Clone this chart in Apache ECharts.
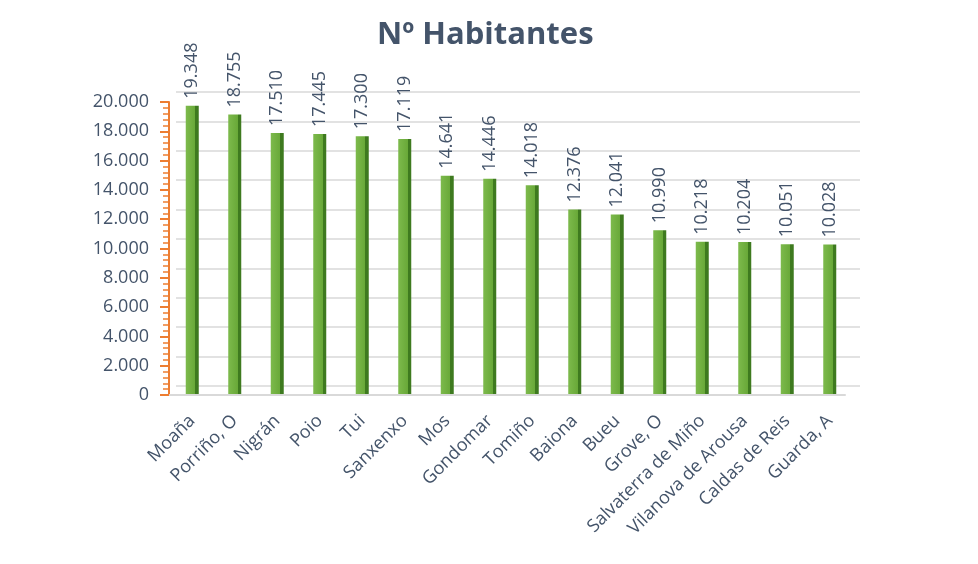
<!DOCTYPE html>
<html>
<head>
<meta charset="utf-8">
<script src="https://cdn.jsdelivr.net/npm/echarts@6/dist/echarts.min.js"></script>
<style>
  html, body { margin: 0; padding: 0; background: #fff; }
  #main { width: 978px; height: 564px; }
</style>
</head>
<body>
<div id="main"></div>
<script>
// municipios
var categories = ['Moaña', 'Porriño, O', 'Nigrán', 'Poio', 'Tui', 'Sanxenxo', 'Mos', 'Gondomar',
    'Tomiño', 'Baiona', 'Bueu', 'Grove, O', 'Salvaterra de Miño', 'Vilanova de Arousa',
    'Caldas de Reis', 'Guarda, A'];
// habitantes
var habitantes = [19348, 18755, 17510, 17445, 17300, 17119, 14641, 14446, 14018, 12376, 12041,
    10990, 10218, 10204, 10051, 10028];
var yTicks = [0, 2000, 4000, 6000, 8000, 10000, 12000, 14000, 16000, 18000, 20000];

function fmt(v) {
    // separador de miles con punto
    return String(v).replace(/\B(?=(\d{3})+(?!\d))/g, '.');
}

var textColor = '#44546a';
var myChart = echarts.init(document.getElementById('main'));

var option = {
    backgroundColor: '#fff',
    animation: false,
    textStyle: { fontFamily: 'Open Sans' },
    title: {
        text: 'Nº Habitantes',
        left: 372,
        top: 15,
        textStyle: { fontSize: 31, fontWeight: 'bold', color: textColor, fontFamily: 'Open Sans' }
    },
    grid: [
        // eje frontal
        { left: 169, right: 133, top: 102, bottom: 169 },
        // pared del fondo (efecto 3D)
        { left: 176, right: 118, top: 92, bottom: 178 },
        // barras
        { left: 171, right: 127, top: 96, bottom: 170 }
    ],
    xAxis: [
        {
            type: 'category',
            gridIndex: 0,
            data: categories,
            axisLine: { show: true, lineStyle: { color: '#d9d9d9', width: 2 } },
            axisTick: { show: false },
            axisLabel: { show: false }
        },
        {
            type: 'category',
            gridIndex: 1,
            data: categories,
            show: false
        },
        {
            type: 'category',
            gridIndex: 2,
            data: categories,
            axisLine: { show: false },
            axisTick: { show: false },
            axisLabel: { rotate: 45, fontSize: 18, color: textColor, margin: 24, interval: 0 }
        }
    ],
    yAxis: [
        {
            type: 'value',
            gridIndex: 0,
            min: yTicks[0],
            max: yTicks[yTicks.length - 1],
            interval: 2000,
            axisLine: { show: true, lineStyle: { color: '#ed7d31', width: 2 } },
            axisTick: { show: true, inside: false, length: 9, lineStyle: { color: '#ed7d31', width: 2 } },
            minorTick: { show: true, splitNumber: 5, length: 6, lineStyle: { color: '#ed7d31', width: 1.5 } },
            splitLine: { show: false },
            axisLabel: { fontSize: 18, color: textColor, margin: 20, formatter: fmt }
        },
        {
            type: 'value',
            gridIndex: 1,
            min: yTicks[0],
            max: yTicks[yTicks.length - 1],
            interval: 2000,
            axisLine: { show: false },
            axisTick: { show: false },
            axisLabel: { show: false },
            splitLine: { show: true, lineStyle: { color: '#d9d9d9', width: 1.5 } }
        },
        {
            type: 'value',
            gridIndex: 2,
            min: yTicks[0],
            max: yTicks[yTicks.length - 1],
            interval: 2000,
            show: false,
            splitLine: { show: false }
        }
    ],
    series: [
        {
            name: 'Nº Habitantes',
            type: 'bar',
            xAxisIndex: 2,
            yAxisIndex: 2,
            data: habitantes,
            barWidth: 13,
            itemStyle: {
                color: new echarts.graphic.LinearGradient(0, 0, 1, 0, [
                    { offset: 0, color: '#7dba4c' },
                    { offset: 0.74, color: '#68a838' },
                    { offset: 0.75, color: '#3e7a1f' },
                    { offset: 1, color: '#3e7a1f' }
                ])
            },
            label: {
                show: true,
                position: 'top',
                rotate: 90,
                align: 'left',
                verticalAlign: 'middle',
                distance: 7,
                fontSize: 18,
                color: textColor,
                formatter: function (p) { return fmt(p.value); }
            }
        }
    ]
};

myChart.setOption(option);
</script>
</body>
</html>
